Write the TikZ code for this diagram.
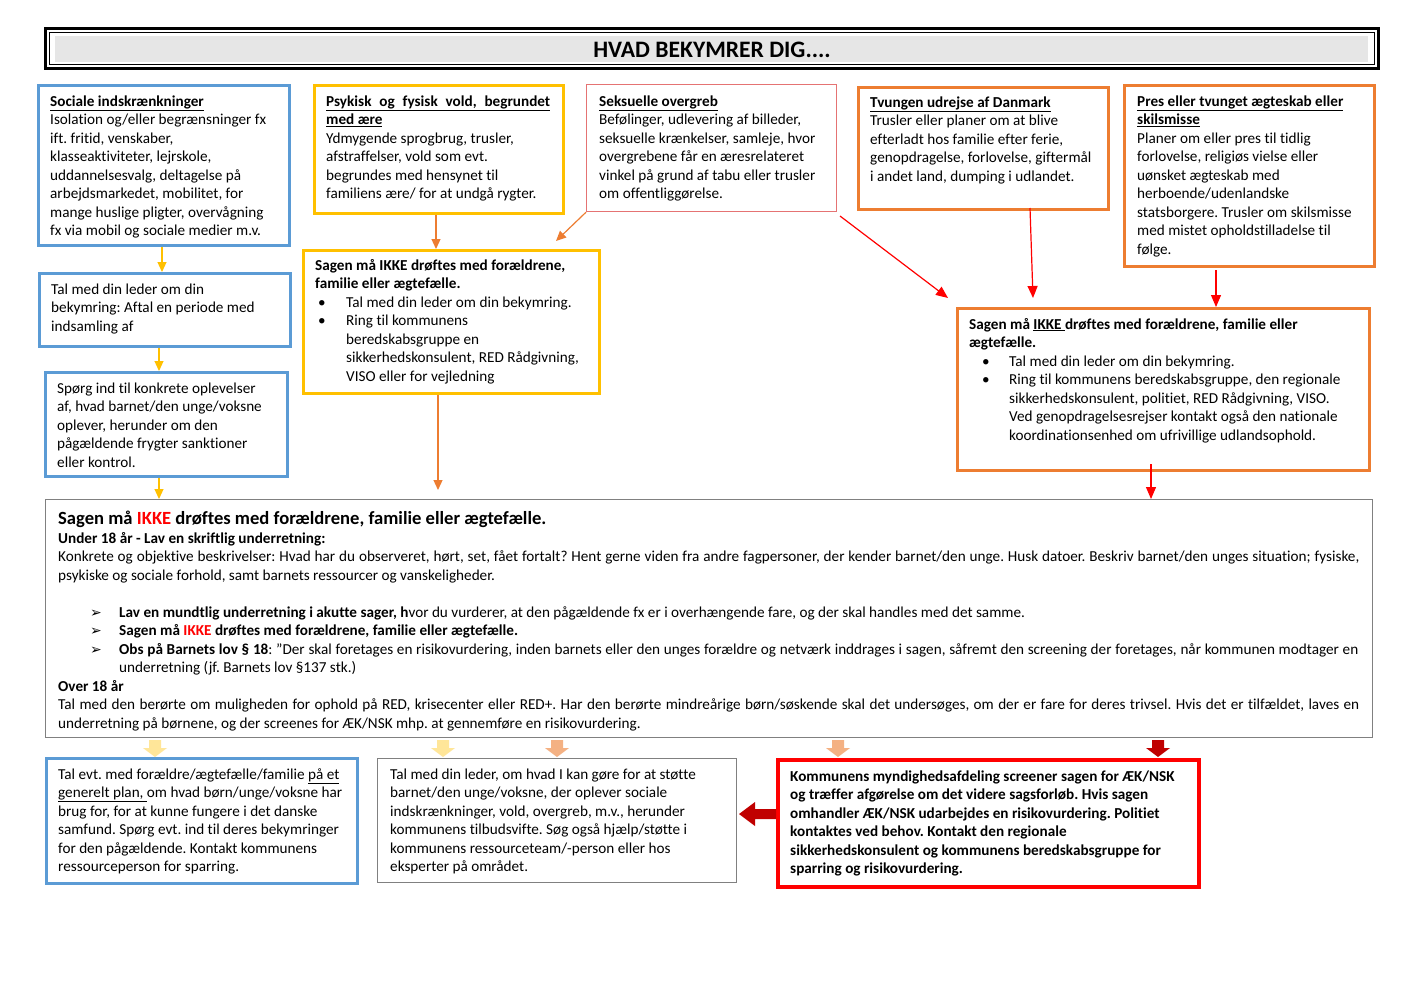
\documentclass[tikz,border=0pt]{standalone}
\usepackage{fontspec}
\setmainfont{Carlito}[Ligatures={TeX,NoCommon}]
\newfontfamily\dejavu{DejaVu Sans}
\usetikzlibrary{arrows.meta,calc}
\definecolor{cblue}{HTML}{5B9BD5}
\definecolor{cgold}{HTML}{FFC000}
\definecolor{corange}{HTML}{ED7D31}
\definecolor{cpink}{HTML}{E57373}
\definecolor{cgray}{HTML}{808080}
\definecolor{cltyellow}{HTML}{FFE699}
\definecolor{cltorange}{HTML}{F4B183}
\definecolor{cdarkred}{HTML}{C00000}
\definecolor{ctitle}{HTML}{E6E6E6}
\newcommand\bodyfont{\fontsize{15.2pt}{18.5pt}\selectfont}
\newcommand\uln[1]{\underline{#1}}
\newcommand\ikke{{\color{red}IKKE}}
\newcommand\arr{\makebox[32pt][l]{}\makebox[29pt][l]{\dejavu\fontsize{14pt}{14pt}\selectfont ➢}}
\frenchspacing
\begin{document}
\begin{tikzpicture}[x=1pt,y=-1pt,
  box/.style={draw, anchor=north west, inner sep=0pt, fill=white},
  txt/.style={anchor=north west, inner sep=0pt, align=left, font=\bodyfont},
  ya/.style={draw=cgold, line width=1.2pt, -{Triangle[length=10pt,width=9pt]}},
  oa/.style={draw=corange, line width=1.2pt, -{Triangle[length=10pt,width=9pt]}},
  ra/.style={draw=red, line width=1.2pt, -{Triangle[length=12pt,width=10pt]}}]
\useasboundingbox (0,0) rectangle (1420,1004);
\fill[white] (0,0) rectangle (1420,1004);

% title
\draw[line width=3pt] (45,28) rectangle (1378,68);
\draw[line width=1pt] (49,32) rectangle (1374,64);
\fill[ctitle] (55,36) rectangle (1368,62);
\node[font=\fontsize{23.6pt}{28pt}\selectfont\bfseries] (title) at (712,50) {HVAD BEKYMRER DIG....};

% top boxes
\node[box, draw=cblue, line width=2.5pt, minimum width=251pt, minimum height=160pt] (soc) at (37,84) {};
\node[txt] (socT) at (50,93) {\strut\uln{\textbf{Sociale indskrænkninger}}\\
Isolation og/eller begrænsninger fx\\
ift. fritid, venskaber,\\
klasseaktiviteter, lejrskole,\\
uddannelsesvalg, deltagelse på\\
arbejdsmarkedet, mobilitet, for\\
mange huslige pligter, overvågning\\
fx via mobil og sociale medier m.v.};

\node[box, draw=cgold, line width=2.5pt, minimum width=249pt, minimum height=128pt] (psy) at (313,84) {};
\node[txt] (psyT) at (326,93) {\strut\uln{\makebox[224pt][s]{\textbf{Psykisk og fysisk vold, begrundet}}}\\
\uln{\textbf{med ære}}\\
Ydmygende sprogbrug, trusler,\\
afstraffelser, vold som evt.\\
begrundes med hensynet til\\
familiens ære/ for at undgå rygter.};

\node[box, draw=cpink, line width=1.2pt, minimum width=250pt, minimum height=127pt] (sek) at (586,84) {};
\node[txt] (sekT) at (599,93) {\strut\uln{\textbf{Seksuelle overgreb}}\\
Befølinger, udlevering af billeder,\\
seksuelle krænkelser, samleje, hvor\\
overgrebene får en æresrelateret\\
vinkel på grund af tabu eller trusler\\
om offentliggørelse.};

\node[box, draw=corange, line width=2.5pt, minimum width=250pt, minimum height=122pt] (tvu) at (857,86) {};
\node[txt] (tvuT) at (870,94) {\strut\uln{\textbf{Tvungen udrejse af Danmark}}\\
Trusler eller planer om at blive\\
efterladt hos familie efter ferie,\\
genopdragelse, forlovelse, giftermål\\
i andet land, dumping i udlandet.};

\node[box, draw=corange, line width=2.5pt, minimum width=250pt, minimum height=181pt] (pres) at (1123,84) {};
\node[txt] (presT) at (1137,93) {\strut\uln{\textbf{Pres eller tvunget ægteskab eller}}\\
\uln{\textbf{skilsmisse}}\\
Planer om eller pres til tidlig\\
forlovelse, religiøs vielse eller\\
uønsket ægteskab med\\
herboende/udenlandske\\
statsborgere. Trusler om skilsmisse\\
med mistet opholdstilladelse til\\
følge.};

% left column
\node[box, draw=cblue, line width=2.5pt, minimum width=251pt, minimum height=73pt] (tal) at (38,272) {};
\node[txt] (talT) at (51,281) {\strut Tal med din leder om din\\
bekymring: Aftal en periode med\\
indsamling af};

\node[box, draw=cblue, line width=2.5pt, minimum width=242pt, minimum height=104pt] (spg) at (44,371) {};
\node[txt] (spgT) at (57,380) {\strut Spørg ind til konkrete oplevelser\\
af, hvad barnet/den unge/voksne\\
oplever, herunder om den\\
pågældende frygter sanktioner\\
eller kontrol.};

% middle yellow
\node[box, draw=cgold, line width=2.5pt, minimum width=296pt, minimum height=143pt] (ik1) at (302,249) {};
\node[txt] (ik1T) at (315,257) {\strut\textbf{Sagen må IKKE drøftes med forældrene,}\\
\textbf{familie eller ægtefælle.}\\
\makebox[31pt][l]{\hspace{3pt}•}Tal med din leder om din bekymring.\\
\makebox[31pt][l]{\hspace{3pt}•}Ring til kommunens\\
\hspace*{31pt}beredskabsgruppe en\\
\hspace*{31pt}sikkerhedskonsulent, RED Rådgivning,\\
\hspace*{31pt}VISO eller for vejledning};

% right orange
\node[box, draw=corange, line width=2.5pt, minimum width=412pt, minimum height=162pt] (ik2) at (956,307) {};
\node[txt] (ik2T) at (969,316) {\strut\textbf{Sagen må \uln{IKKE }drøftes med forældrene, familie eller}\\
\textbf{ægtefælle.}\\
\makebox[40pt][l]{\hspace{13pt}•}Tal med din leder om din bekymring.\\
\makebox[40pt][l]{\hspace{13pt}•}Ring til kommunens beredskabsgruppe, den regionale\\
\hspace*{40pt}sikkerhedskonsulent, politiet, RED Rådgivning, VISO.\\
\hspace*{40pt}Ved genopdragelsesrejser kontakt også den nationale\\
\hspace*{40pt}koordinationsenhed om ufrivillige udlandsophold.};

% big box
\node[box, draw=cgray, line width=1.2pt, minimum width=1327pt, minimum height=238pt] (big) at (45,499) {};
\node[anchor=base west, inner sep=0pt, font=\fontsize{18.6pt}{22.6pt}\selectfont\bfseries] (bigH) at (58,524) {Sagen må \ikke\ drøftes med forældrene, familie eller ægtefælle.};
\node[txt] (bigT) at (58,530) {\strut\textbf{Under 18 år - Lav en skriftlig underretning:}\\
\makebox[1301pt][s]{Konkrete og objektive beskrivelser: Hvad har du observeret, hørt, set, fået fortalt? Hent gerne viden fra andre fagpersoner, der kender barnet/den unge. Husk datoer. Beskriv barnet/den unges situation; fysiske,}\\
psykiske og sociale forhold, samt barnets ressourcer og vanskeligheder.\\
\strut\\
\arr\textbf{Lav en mundtlig underretning i akutte sager, h}vor du vurderer, at den pågældende fx er i overhængende fare, og der skal handles med det samme.\\
\arr\textbf{Sagen må \ikke\ drøftes med forældrene, familie eller ægtefælle.}\\
\arr\makebox[1239pt][s]{\textbf{Obs på Barnets lov § 18}: ”Der skal foretages en risikovurdering, inden barnets eller den unges forældre og netværk inddrages i sagen, såfremt den screening der foretages, når kommunen modtager en}\\
\hspace*{61pt}underretning (jf. Barnets lov §137 stk.)\\
\textbf{Over 18 år}\\
\makebox[1301pt][s]{Tal med den berørte om muligheden for ophold på RED, krisecenter eller RED+. Har den berørte mindreårige børn/søskende skal det undersøges, om der er fare for deres trivsel. Hvis det er tilfældet, laves en}\\
underretning på børnene, og der screenes for ÆK/NSK mhp. at gennemføre en risikovurdering.};

% bottom boxes
\node[box, draw=cblue, line width=2.5pt, minimum width=311pt, minimum height=125pt] (bl) at (45,757) {};
\node[txt] (blT) at (58,766) {\strut Tal evt. med forældre/ægtefælle/familie \uln{på et}\\
\uln{generelt plan, }om hvad børn/unge/voksne har\\
brug for, for at kunne fungere i det danske\\
samfund. Spørg evt. ind til deres bekymringer\\
for den pågældende. Kontakt kommunens\\
ressourceperson for sparring.};

\node[box, draw=cgray, line width=1.2pt, minimum width=359pt, minimum height=124pt] (bm) at (377,758) {};
\node[txt] (bmT) at (390,766) {\strut Tal med din leder, om hvad I kan gøre for at støtte\\
barnet/den unge/voksne, der oplever sociale\\
indskrænkninger, vold, overgreb, m.v., herunder\\
kommunens tilbudsvifte. Søg også hjælp/støtte i\\
kommunens ressourceteam/-person eller hos\\
eksperter på området.};

\node[box, draw=red, line width=3.5pt, minimum width=421pt, minimum height=127pt] (br) at (776,758) {};
\node[txt, font=\bodyfont\bfseries] (brT) at (790,768) {\strut Kommunens myndighedsafdeling screener sagen for ÆK/NSK\\
og træffer afgørelse om det videre sagsforløb. Hvis sagen\\
omhandler ÆK/NSK udarbejdes en risikovurdering. Politiet\\
kontaktes ved behov. Kontakt den regionale\\
sikkerhedskonsulent og kommunens beredskabsgruppe for\\
sparring og risikovurdering.};

% line connectors
\coordinate (x1) at (162,0);
\draw[ya] (x1 |- soc.south) -- (x1 |- tal.north);
\coordinate (x2) at (159,0);
\draw[ya] (x2 |- tal.south) -- (x2 |- spg.north);
\draw[ya] (x2 |- spg.south) -- (x2 |- big.north);
\coordinate (x3) at (436,0);
\draw[oa] (x3 |- psy.south) -- (x3 |- ik1.north);
\coordinate (e1) at (556,241);
\draw[oa] (sek.south west) -- (e1);
\coordinate (x4) at (438,0);
\coordinate (e2) at (438,490);
\draw[oa] (x4 |- ik1.south) -- (e2);
\coordinate (s5) at (840,216);
\coordinate (e5) at (948,298);
\draw[ra] (s5) -- (e5);
\coordinate (s6) at (1030,208);
\coordinate (e6) at (1033,298);
\draw[ra] (s6) -- (e6);
\coordinate (s7) at (1216,270);
\draw[ra] (s7) -- (s7 |- ik2.north);
\coordinate (s8) at (1151,464);
\draw[ra] (s8) -- (s8 |- big.north);

% block arrows
\newcommand\dnarrow[2]{\fill[#2] (#1-6,740) -- (#1+6,740) -- (#1+6,748) -- (#1+12,748) -- (#1,757) -- (#1-12,748) -- (#1-6,748) -- cycle;}
\dnarrow{155}{cltyellow}
\dnarrow{443}{cltyellow}
\dnarrow{557}{cltorange}
\dnarrow{838}{cltorange}
\dnarrow{1158}{cdarkred}
\fill[cdarkred] (br.west |- 0,809) -- (755,809) -- (755,802) -- (739,814) -- (755,826) -- (755,819) -- (br.west |- 0,819) -- cycle;
\end{tikzpicture}
\end{document}
